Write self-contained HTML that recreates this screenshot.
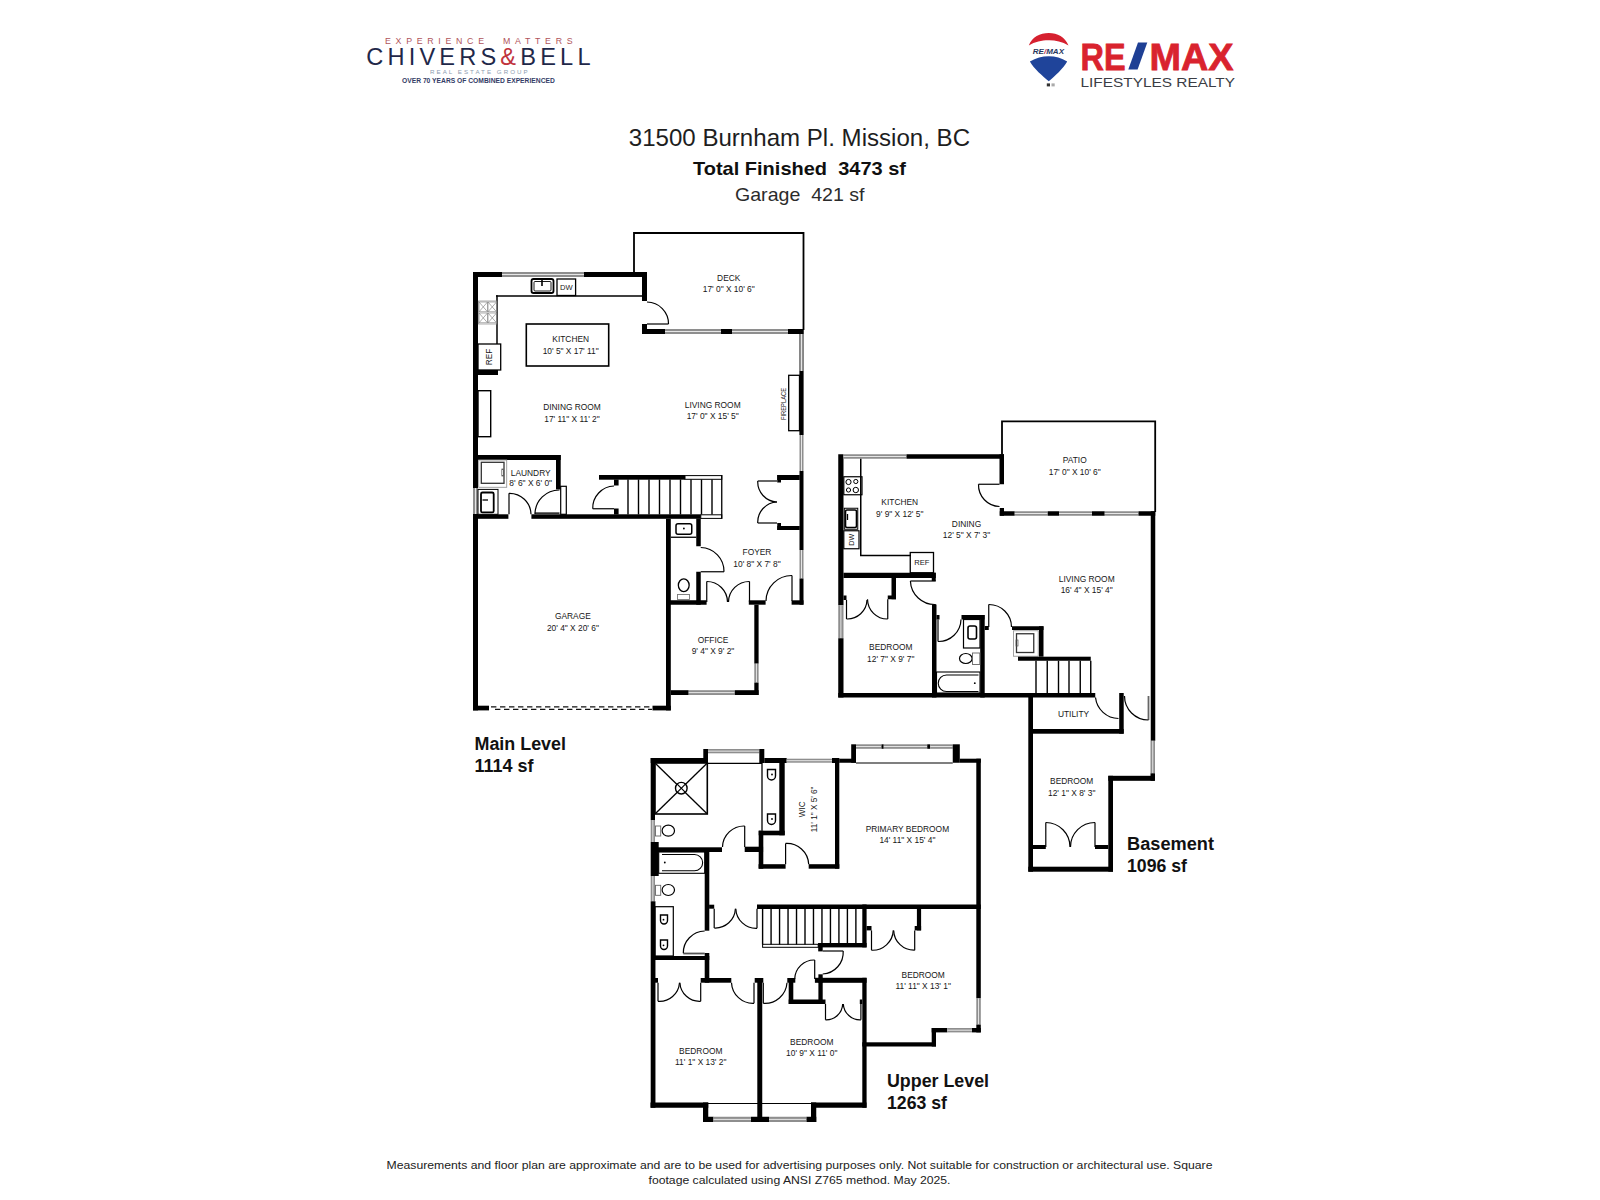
<!DOCTYPE html>
<html><head><meta charset="utf-8"><title>31500 Burnham Pl. Mission, BC - Floor Plan</title>
<style>
html,body{margin:0;padding:0;background:#fff;}
body{width:1600px;height:1200px;overflow:hidden;position:relative;font-family:"Liberation Sans",sans-serif;}
svg{position:absolute;left:0;top:0;}
.w{fill:#000;}
text{font-family:"Liberation Sans",sans-serif;white-space:pre;}
</style></head><body>
<svg width="1600" height="1200" viewBox="0 0 1600 1200">
<defs>

</defs>
<!-- Chivers & Bell logo -->
<g>
<text x="385" y="44.4" font-size="8.8" fill="#b0545a" textLength="187.6" lengthAdjust="spacing">EXPERIENCE  MATTERS</text>
<text x="366.3" y="65" font-size="23.6" fill="#1f2849" textLength="224.2" lengthAdjust="spacing">CHIVERS<tspan fill="#c0343d">&amp;</tspan>BELL</text>
<text x="430" y="73.6" font-size="6.2" fill="#8d9db0" textLength="97.6" lengthAdjust="spacing">REAL ESTATE GROUP</text>
<text x="402" y="83" font-size="6.9" font-weight="bold" fill="#333c66" textLength="152.8" lengthAdjust="spacingAndGlyphs">OVER 70 YEARS OF COMBINED EXPERIENCED</text>
</g>
<!-- RE/MAX logo -->
<g>
<path d="M1028.8 45.6C1032 37 1040 33 1048.8 33C1057.5 33 1065 37 1068.5 45.6C1062 41.5 1055 40.2 1048.8 40.3C1042.5 40.2 1035 41.5 1028.8 45.6Z" fill="#d6202f"/><path d="M1029.9 61.6C1036 58 1042 56.3 1048.8 56.3C1055.5 56.3 1061.5 58 1067.2 61.6C1063 69 1055 76 1048.8 81.3C1042.5 76 1034 69 1029.9 61.6Z" fill="#1f449a"/><text x="1032.8" y="54.2" font-size="8" font-weight="bold" font-style="italic" fill="#27375e" textLength="31.2" lengthAdjust="spacingAndGlyphs">RE<tspan fill="#c4304a">/</tspan>MAX</text><rect x="1046.8" y="83.4" width="3.2" height="3" fill="#333"/><rect x="1051.5" y="83.4" width="3.2" height="3" fill="#aaa"/>
<text x="1080.5" y="69.5" font-size="37.5" font-weight="bold" fill="#d9232e" stroke="#d9232e" stroke-width="0.8" textLength="45" lengthAdjust="spacingAndGlyphs">RE</text><path d="M1128.3 69.5H1137.6L1147.3 42.6H1138Z" fill="#1e3f94"/><text x="1149.5" y="69.5" font-size="37.5" font-weight="bold" fill="#d9232e" stroke="#d9232e" stroke-width="0.8" textLength="84" lengthAdjust="spacingAndGlyphs">MAX</text>
<text x="1080.5" y="86.7" font-size="12.6" fill="#3b3d44" textLength="154.5" lengthAdjust="spacingAndGlyphs">LIFESTYLES REALTY</text>
</g>
<!-- header text -->
<text x="628.75" y="146.3" font-size="24.2" fill="#1e1e1e" textLength="341.3" lengthAdjust="spacingAndGlyphs">31500 Burnham Pl. Mission, BC</text>
<text x="693" y="174.5" font-size="18.6" font-weight="bold" fill="#0f0f0f" textLength="213" lengthAdjust="spacingAndGlyphs">Total Finished  3473 sf</text>
<text x="735" y="201.3" font-size="19" fill="#2b2b2b" textLength="129.5" lengthAdjust="spacingAndGlyphs">Garage  421 sf</text>
<!-- level labels -->
<text x="474.5" y="749.5" font-size="18" font-weight="bold" fill="#111" textLength="91.5" lengthAdjust="spacingAndGlyphs">Main Level</text>
<text x="474.5" y="772" font-size="18" font-weight="bold" fill="#111" textLength="59" lengthAdjust="spacingAndGlyphs">1114 sf</text>
<text x="1127" y="849.5" font-size="18" font-weight="bold" fill="#111" textLength="87" lengthAdjust="spacingAndGlyphs">Basement</text>
<text x="1127" y="872" font-size="18" font-weight="bold" fill="#111" textLength="60" lengthAdjust="spacingAndGlyphs">1096 sf</text>
<text x="887" y="1086.5" font-size="18" font-weight="bold" fill="#111" textLength="102" lengthAdjust="spacingAndGlyphs">Upper Level</text>
<text x="887" y="1109" font-size="18" font-weight="bold" fill="#111" textLength="60" lengthAdjust="spacingAndGlyphs">1263 sf</text>
<!-- footer -->
<text x="386.5" y="1169" font-size="10.9" fill="#222" textLength="826" lengthAdjust="spacingAndGlyphs">Measurements and floor plan are approximate and are to be used for advertising purposes only. Not suitable for construction or architectural use. Square</text>
<text x="648.5" y="1183.5" font-size="10.9" fill="#222" textLength="302" lengthAdjust="spacingAndGlyphs">footage calculated using ANSI Z765 method. May 2025.</text>
<!-- floor plans -->
<path d="M634 272V233H803.5V330" fill="none" stroke="#000" stroke-width="1.8"/>
<rect x="473" y="272" width="29" height="5" class="w"/>
<rect x="502" y="272" width="82" height="5" fill="#8e8e8e"/>
<line x1="502" y1="274.5" x2="584" y2="274.5" stroke="#e6e6e6" stroke-width="1.0"/>
<rect x="584" y="272" width="63" height="5" class="w"/>
<rect x="642" y="272" width="5" height="29" class="w"/>
<rect x="473" y="272" width="5" height="216" class="w"/>
<rect x="473" y="488" width="5" height="26" fill="#8e8e8e"/>
<line x1="475.5" y1="488" x2="475.5" y2="514" stroke="#e6e6e6" stroke-width="1.0"/>
<rect x="473" y="514" width="5" height="196.4" class="w"/>
<rect x="642" y="324" width="5" height="10" class="w"/>
<rect x="642" y="329" width="23" height="5" class="w"/>
<rect x="665" y="329" width="56" height="5" fill="#8e8e8e"/>
<line x1="665" y1="331.5" x2="721" y2="331.5" stroke="#e6e6e6" stroke-width="1.0"/>
<rect x="721" y="329" width="11" height="5" class="w"/>
<rect x="732" y="329" width="56" height="5" fill="#8e8e8e"/>
<line x1="732" y1="331.5" x2="788" y2="331.5" stroke="#e6e6e6" stroke-width="1.0"/>
<rect x="788" y="329" width="15.5" height="5" class="w"/>
<line x1="647" y1="324" x2="668.5" y2="324" stroke="#000" stroke-width="1.2"/>
<path d="M668.5 324A21.75 21.75 0 0 0 647 302" fill="none" stroke="#000" stroke-width="1.2"/>
<rect x="799.5" y="334" width="4" height="37" class="w"/>
<rect x="799.5" y="371" width="4" height="64" fill="#8e8e8e"/>
<rect x="799.5" y="329" width="4" height="5" class="w"/>
<rect x="799.5" y="334" width="4" height="37" fill="#8e8e8e"/>
<line x1="801.5" y1="334" x2="801.5" y2="371" stroke="#e6e6e6" stroke-width="1.0"/>
<rect x="799.5" y="371" width="4" height="64" class="w"/>
<rect x="799.5" y="435" width="4" height="36" fill="#8e8e8e"/>
<line x1="801.5" y1="435" x2="801.5" y2="471" stroke="#e6e6e6" stroke-width="1.0"/>
<rect x="799.5" y="471" width="4" height="79" class="w"/>
<rect x="799.5" y="550" width="4" height="28.5" fill="#8e8e8e"/>
<line x1="801.5" y1="550" x2="801.5" y2="578.5" stroke="#e6e6e6" stroke-width="1.0"/>
<rect x="799.5" y="578.5" width="4" height="26.2" class="w"/>
<rect x="788.7" y="375.3" width="10.8" height="55.4" rx="0" fill="none" stroke="#000" stroke-width="1.3"/>
<text x="786.2" y="404" font-size="6.8" text-anchor="middle" font-weight="normal" fill="#161616" transform="rotate(-90 786.2 404)" textLength="32" lengthAdjust="spacingAndGlyphs">FIREPLACE</text>
<line x1="496" y1="296" x2="642" y2="296" stroke="#000" stroke-width="1.5"/>
<line x1="497" y1="295.3" x2="497" y2="344" stroke="#000" stroke-width="1.5"/>
<rect x="531.5" y="279" width="22" height="14" rx="2" fill="none" stroke="#000" stroke-width="1.8"/>
<rect x="534" y="281.5" width="17" height="9.5" rx="1" fill="none" stroke="#000" stroke-width="0.9"/>
<line x1="542" y1="280" x2="542" y2="286" stroke="#000" stroke-width="1.6"/>
<rect x="557" y="279" width="18.6" height="16.5" rx="0" fill="none" stroke="#000" stroke-width="1.3"/>
<text x="566.3" y="290.3" font-size="7.6" text-anchor="middle" font-weight="normal" fill="#222" >DW</text>
<g stroke="#8a8a8a" stroke-width="0.7" fill="none"><rect x="478.3" y="301" width="18.5" height="23"/><rect x="479" y="302" width="8.5" height="9.8"/><rect x="488" y="302" width="8.5" height="9.8"/><rect x="479" y="313" width="8.5" height="9.8"/><rect x="488" y="313" width="8.5" height="9.8"/><path d="M479 302l8.5 9.8M487.5 302l-8.5 9.8M488 302l8.5 9.8M496.5 302l-8.5 9.8M479 313l8.5 9.8M487.5 313l-8.5 9.8M488 313l8.5 9.8M496.5 313l-8.5 9.8"/></g>
<rect x="478" y="344" width="22.7" height="26" rx="0" fill="none" stroke="#000" stroke-width="1.3"/>
<text x="492.2" y="357" font-size="8.2" text-anchor="middle" font-weight="normal" fill="#161616" transform="rotate(-90 492.2 357)">REF</text>
<rect x="478" y="370" width="20" height="5" class="w"/>
<rect x="526.3" y="324" width="82.4" height="42" rx="0" fill="none" stroke="#000" stroke-width="1.6"/>
<rect x="478" y="390.7" width="12.7" height="46" rx="0" fill="none" stroke="#000" stroke-width="1.4"/>
<rect x="478" y="455" width="82.7" height="5" class="w"/>
<rect x="556" y="455" width="4.7" height="34.4" class="w"/>
<rect x="478.7" y="460" width="28" height="27.3" rx="0" fill="none" stroke="#999" stroke-width="0.9"/>
<rect x="481.3" y="462.3" width="22.7" height="21" rx="0" fill="none" stroke="#333" stroke-width="1.3"/>
<rect x="501.8" y="469" width="1.8" height="7" rx="0" fill="none" stroke="#555" stroke-width="0.7"/>
<rect x="478" y="489.4" width="20" height="24.9" rx="0" fill="none" stroke="#000" stroke-width="1.0"/>
<rect x="481" y="492.5" width="12.7" height="19.9" rx="1.5" fill="none" stroke="#000" stroke-width="1.8"/>
<line x1="482.5" y1="500" x2="488" y2="500" stroke="#000" stroke-width="1.3"/>
<rect x="478" y="514.3" width="30.4" height="4.5" class="w"/>
<rect x="531.4" y="514.3" width="169.35" height="4.5" class="w"/>
<line x1="509" y1="514.3" x2="509" y2="493.3" stroke="#000" stroke-width="1.2"/>
<path d="M509 493.3A21.5 21.5 0 0 1 531 514.3" fill="none" stroke="#000" stroke-width="1.2"/>
<line x1="534.8" y1="513.3" x2="559.5" y2="513.3" stroke="#333" stroke-width="2.0"/>
<path d="M535 514A24.25 24.25 0 0 1 559.5 490" fill="none" stroke="#000" stroke-width="1.2"/>
<rect x="560.7" y="486.3" width="5.6" height="28" rx="0" fill="none" stroke="#000" stroke-width="1.2"/>
<rect x="599" y="475" width="86" height="4.7" class="w"/>
<rect x="685" y="475.6" width="36.75" height="3.7" rx="0" fill="none" stroke="#000" stroke-width="1.0"/>
<rect x="700.75" y="514.8" width="21" height="3.6" rx="0" fill="none" stroke="#000" stroke-width="1.0"/>
<line x1="721.75" y1="475" x2="721.75" y2="518.8" stroke="#000" stroke-width="1.3"/>
<rect x="614" y="479.5" width="4.6" height="6" class="w"/>
<rect x="614" y="508.5" width="4.6" height="6" class="w"/>
<line x1="614" y1="508.75" x2="592.75" y2="508.75" stroke="#000" stroke-width="1.2"/>
<path d="M592.75 508.75A22 22 0 0 1 614 486" fill="none" stroke="#000" stroke-width="1.2"/>
<line x1="628" y1="479.5" x2="628" y2="514.5" stroke="#000" stroke-width="1.4"/>
<line x1="638.5" y1="479.5" x2="638.5" y2="514.5" stroke="#000" stroke-width="1.4"/>
<line x1="649" y1="479.5" x2="649" y2="514.5" stroke="#000" stroke-width="1.4"/>
<line x1="659.5" y1="479.5" x2="659.5" y2="514.5" stroke="#000" stroke-width="1.4"/>
<line x1="670" y1="479.5" x2="670" y2="514.5" stroke="#000" stroke-width="1.4"/>
<line x1="680.5" y1="479.5" x2="680.5" y2="514.5" stroke="#000" stroke-width="1.4"/>
<line x1="691" y1="479.5" x2="691" y2="514.5" stroke="#000" stroke-width="1.4"/>
<line x1="701.5" y1="479.5" x2="701.5" y2="514.5" stroke="#000" stroke-width="1.4"/>
<line x1="712" y1="479.5" x2="712" y2="514.5" stroke="#000" stroke-width="1.4"/>
<rect x="666" y="518.8" width="4.8" height="191.6" class="w"/>
<rect x="473" y="705.7" width="16" height="4.7" class="w"/>
<rect x="652.5" y="705.7" width="18.3" height="4.7" class="w"/>
<line x1="491" y1="706.8" x2="652" y2="706.8" stroke="#111" stroke-width="1.2" stroke-dasharray="5.4 3.6"/>
<line x1="495" y1="709.4" x2="652" y2="709.4" stroke="#111" stroke-width="1.2" stroke-dasharray="5.4 3.6"/>
<rect x="696.25" y="518.5" width="4.5" height="27.75" class="w"/>
<rect x="696.25" y="571.75" width="4.5" height="33" class="w"/>
<rect x="666" y="600.25" width="40.6" height="4.5" class="w"/>
<rect x="676" y="523.75" width="15.75" height="10.5" rx="2" fill="none" stroke="#000" stroke-width="1.5"/>
<circle cx="683.9" cy="528.5" r="0.9" fill="#000"/>
<line x1="670.8" y1="537.25" x2="696.25" y2="537.25" stroke="#000" stroke-width="1.3"/>
<ellipse cx="683.75" cy="585.25" rx="5.4" ry="6.4" fill="none" stroke="#000" stroke-width="1.3"/>
<rect x="677.5" y="594.5" width="12" height="5" rx="0" fill="none" stroke="#777" stroke-width="0.9"/>
<line x1="700.75" y1="571.75" x2="724" y2="571.75" stroke="#000" stroke-width="1.2"/>
<path d="M724 571.75A23.75 23.75 0 0 0 700.75 547.5" fill="none" stroke="#000" stroke-width="1.2"/>
<rect x="777.25" y="475" width="22.5" height="5" class="w"/>
<rect x="777.25" y="475" width="3.75" height="7.5" class="w"/>
<rect x="777.25" y="526" width="22.5" height="4" class="w"/>
<rect x="777.25" y="523" width="3.75" height="7" class="w"/>
<line x1="777" y1="481" x2="757.75" y2="481" stroke="#000" stroke-width="1.2"/>
<path d="M757.75 481A20.12 20.12 0 0 0 777 502" fill="none" stroke="#000" stroke-width="1.2"/>
<line x1="777" y1="523" x2="757.75" y2="523" stroke="#000" stroke-width="1.2"/>
<path d="M757.75 523A20.12 20.12 0 0 1 777 502" fill="none" stroke="#000" stroke-width="1.2"/>
<rect x="748.8" y="600.3" width="16.8" height="4.4" class="w"/>
<rect x="791.6" y="600.3" width="11.9" height="4.4" class="w"/>
<line x1="706.75" y1="602" x2="706.75" y2="581.5" stroke="#000" stroke-width="1.2"/>
<path d="M706.75 581.5A20.62 20.62 0 0 1 727.5 602" fill="none" stroke="#000" stroke-width="1.2"/>
<line x1="749.5" y1="602" x2="749.5" y2="581.5" stroke="#000" stroke-width="1.2"/>
<path d="M749.5 581.5A20.75 20.75 0 0 0 728.5 602" fill="none" stroke="#000" stroke-width="1.2"/>
<line x1="792" y1="601" x2="792" y2="575.5" stroke="#000" stroke-width="1.2"/>
<path d="M792 575.5A25.75 25.75 0 0 0 766 601" fill="none" stroke="#000" stroke-width="1.2"/>
<rect x="754.3" y="604.7" width="4.3" height="59" class="w"/>
<rect x="754.3" y="663.7" width="4.3" height="18.9" fill="#8e8e8e"/>
<line x1="756.45" y1="663.7" x2="756.45" y2="682.6" stroke="#e6e6e6" stroke-width="1.0"/>
<rect x="754.3" y="682.6" width="4.3" height="12.4" class="w"/>
<rect x="670.8" y="690.2" width="17.9" height="4.8" class="w"/>
<rect x="688.7" y="690.2" width="46.1" height="4.8" fill="#8e8e8e"/>
<line x1="688.7" y1="692.6" x2="734.8" y2="692.6" stroke="#e6e6e6" stroke-width="1.0"/>
<rect x="734.8" y="690.2" width="23.8" height="4.8" class="w"/>
<text x="728.75" y="281.1" font-size="8.4" text-anchor="middle" font-weight="normal" fill="#161616" >DECK</text>
<text x="728.75" y="292.1" font-size="8.4" text-anchor="middle" font-weight="normal" fill="#161616" >17' 0&quot; X 10' 6&quot;</text>
<text x="570.7" y="342.4" font-size="8.4" text-anchor="middle" font-weight="normal" fill="#161616" >KITCHEN</text>
<text x="570.7" y="353.8" font-size="8.4" text-anchor="middle" font-weight="normal" fill="#161616" >10' 5&quot; X 17' 11&quot;</text>
<text x="572" y="410.4" font-size="8.4" text-anchor="middle" font-weight="normal" fill="#161616" >DINING ROOM</text>
<text x="572" y="421.8" font-size="8.4" text-anchor="middle" font-weight="normal" fill="#161616" >17' 11&quot; X 11' 2&quot;</text>
<text x="712.7" y="408.4" font-size="8.4" text-anchor="middle" font-weight="normal" fill="#161616" >LIVING ROOM</text>
<text x="712.7" y="419.1" font-size="8.4" text-anchor="middle" font-weight="normal" fill="#161616" >17' 0&quot; X 15' 5&quot;</text>
<text x="530.7" y="475.8" font-size="8.4" text-anchor="middle" font-weight="normal" fill="#161616" >LAUNDRY</text>
<text x="530.7" y="485.8" font-size="8.4" text-anchor="middle" font-weight="normal" fill="#161616" >8' 6&quot; X 6' 0&quot;</text>
<text x="757" y="554.6" font-size="8.4" text-anchor="middle" font-weight="normal" fill="#161616" >FOYER</text>
<text x="757" y="566.6" font-size="8.4" text-anchor="middle" font-weight="normal" fill="#161616" >10' 8&quot; X 7' 8&quot;</text>
<text x="572.9" y="619.3" font-size="8.4" text-anchor="middle" font-weight="normal" fill="#161616" >GARAGE</text>
<text x="572.9" y="630.7" font-size="8.4" text-anchor="middle" font-weight="normal" fill="#161616" >20' 4&quot; X 20' 6&quot;</text>
<text x="713" y="643.1" font-size="8.4" text-anchor="middle" font-weight="normal" fill="#161616" >OFFICE</text>
<text x="713" y="654.3" font-size="8.4" text-anchor="middle" font-weight="normal" fill="#161616" >9' 4&quot; X 9' 2&quot;</text>
<rect x="838.25" y="454.25" width="5.25" height="151" class="w"/>
<rect x="838.25" y="605.25" width="5.25" height="33" fill="#8e8e8e"/>
<line x1="840.88" y1="605.25" x2="840.88" y2="638.25" stroke="#e6e6e6" stroke-width="1.0"/>
<rect x="838.25" y="638.25" width="5.25" height="59.25" class="w"/>
<rect x="843.5" y="454.25" width="63" height="4.5" fill="#8e8e8e"/>
<line x1="843.5" y1="456.5" x2="906.5" y2="456.5" stroke="#e6e6e6" stroke-width="1.0"/>
<rect x="906.5" y="454.25" width="97.5" height="4.5" class="w"/>
<rect x="999.5" y="454.25" width="4.5" height="30" class="w"/>
<path d="M1002 454.5V421.3H1155.2V512" fill="none" stroke="#000" stroke-width="1.8"/>
<rect x="999.75" y="508" width="4.25" height="7.75" class="w"/>
<rect x="999.75" y="511.25" width="15" height="4.5" class="w"/>
<rect x="1014.75" y="511.25" width="33" height="4.5" fill="#8e8e8e"/>
<line x1="1014.75" y1="513.5" x2="1047.75" y2="513.5" stroke="#e6e6e6" stroke-width="1.0"/>
<rect x="1047.75" y="511.25" width="11.25" height="4.5" class="w"/>
<rect x="1059" y="511.25" width="33" height="4.5" fill="#8e8e8e"/>
<line x1="1059" y1="513.5" x2="1092" y2="513.5" stroke="#e6e6e6" stroke-width="1.0"/>
<rect x="1092" y="511.25" width="12.75" height="4.5" class="w"/>
<rect x="1104.75" y="511.25" width="33.75" height="4.5" fill="#8e8e8e"/>
<line x1="1104.75" y1="513.5" x2="1138.5" y2="513.5" stroke="#e6e6e6" stroke-width="1.0"/>
<rect x="1138.5" y="511.25" width="16.75" height="4.5" class="w"/>
<line x1="999.5" y1="484.25" x2="978.5" y2="484.25" stroke="#000" stroke-width="1.2"/>
<path d="M978.5 484.25A21.62 21.62 0 0 0 999.5 506.5" fill="none" stroke="#000" stroke-width="1.2"/>
<rect x="1150.75" y="511.25" width="4.5" height="229.55" class="w"/>
<rect x="1150.5" y="740.8" width="4.5" height="32.5" fill="#8e8e8e"/>
<line x1="1152.75" y1="740.8" x2="1152.75" y2="773.3" stroke="#e6e6e6" stroke-width="1.0"/>
<rect x="1150.5" y="773.3" width="4.5" height="7.5" class="w"/>
<line x1="860.75" y1="458.75" x2="860.75" y2="555.5" stroke="#000" stroke-width="1.5"/>
<line x1="860" y1="555.5" x2="911" y2="555.5" stroke="#000" stroke-width="1.5"/>
<rect x="843.8" y="476.75" width="18.2" height="18" rx="0" fill="none" stroke="#000" stroke-width="1.2"/>
<circle cx="848.5" cy="482" r="2.6" fill="none" stroke="#000" stroke-width="1.0"/>
<circle cx="855.8" cy="481.5" r="2.1" fill="none" stroke="#000" stroke-width="1.0"/>
<circle cx="848.5" cy="490" r="2.1" fill="none" stroke="#000" stroke-width="1.0"/>
<circle cx="855.8" cy="490" r="2.7" fill="none" stroke="#000" stroke-width="1.0"/>
<rect x="844.3" y="508.25" width="13.45" height="21" rx="0" fill="none" stroke="#000" stroke-width="1.0"/>
<rect x="845.5" y="510" width="11" height="17.5" rx="1.5" fill="none" stroke="#000" stroke-width="1.6"/>
<line x1="847.5" y1="514" x2="847.5" y2="520" stroke="#000" stroke-width="1.3"/>
<rect x="843.8" y="530.75" width="15.2" height="18" rx="0" fill="none" stroke="#000" stroke-width="1.2"/>
<text x="854" y="539.75" font-size="7.2" text-anchor="middle" font-weight="normal" fill="#161616" transform="rotate(-90 854 539.75)">DW</text>
<rect x="910.25" y="552.5" width="23.25" height="20.25" rx="0" fill="none" stroke="#000" stroke-width="1.3"/>
<text x="921.9" y="565.3" font-size="7.6" text-anchor="middle" font-weight="normal" fill="#161616" >REF</text>
<rect x="843.5" y="572.75" width="92.25" height="5.25" class="w"/>
<rect x="931.75" y="572.75" width="4" height="8.25" class="w"/>
<rect x="891.5" y="577.5" width="4.5" height="21.75" class="w"/>
<rect x="887.75" y="595.5" width="8.25" height="3.75" class="w"/>
<rect x="843.5" y="595.5" width="3" height="4.5" class="w"/>
<line x1="846.5" y1="600" x2="846.5" y2="619" stroke="#000" stroke-width="1.2"/>
<path d="M846.5 619A19.75 19.75 0 0 0 867 600" fill="none" stroke="#000" stroke-width="1.2"/>
<line x1="887.75" y1="599.25" x2="887.75" y2="619" stroke="#000" stroke-width="1.2"/>
<path d="M887.75 619A20 20 0 0 1 867.5 599.25" fill="none" stroke="#000" stroke-width="1.2"/>
<rect x="838.25" y="693" width="257" height="4.5" class="w"/>
<rect x="932" y="604.5" width="4.5" height="93" class="w"/>
<line x1="935.75" y1="581" x2="910.4" y2="581" stroke="#000" stroke-width="1.2"/>
<path d="M910.4 581A24.43 24.43 0 0 0 935.75 604.5" fill="none" stroke="#000" stroke-width="1.2"/>
<rect x="936.5" y="615" width="3" height="4.5" class="w"/>
<line x1="938" y1="619.5" x2="938" y2="641.5" stroke="#000" stroke-width="1.2"/>
<path d="M938 641.5A22.5 22.5 0 0 0 961 619.5" fill="none" stroke="#000" stroke-width="1.2"/>
<rect x="961.5" y="615" width="23" height="4.5" class="w"/>
<rect x="980.2" y="615" width="4.5" height="82.5" class="w"/>
<rect x="963.5" y="619.5" width="16.5" height="28.5" rx="0" fill="none" stroke="#000" stroke-width="1.2"/>
<rect x="968" y="626" width="8.5" height="13" rx="2" fill="none" stroke="#000" stroke-width="1.6"/>
<ellipse cx="965.8" cy="658.5" rx="6.3" ry="5" fill="none" stroke="#000" stroke-width="1.2"/>
<rect x="972.5" y="653" width="7.3" height="11.5" rx="0" fill="none" stroke="#666" stroke-width="0.9"/>
<rect x="936.5" y="672" width="43.5" height="21" rx="0" fill="none" stroke="#000" stroke-width="1.1"/>
<path d="M978.5 675H946.5A7.5 7.5 0 0 0 946.5 691.5H978.5" fill="none" stroke="#000" stroke-width="1.1"/>
<circle cx="974.8" cy="683.2" r="0.9" fill="#000"/>
<rect x="984.7" y="626" width="4.05" height="4" class="w"/>
<line x1="988.75" y1="627" x2="988.75" y2="604.5" stroke="#000" stroke-width="1.2"/>
<path d="M988.75 604.5A22.62 22.62 0 0 1 1011.5 627" fill="none" stroke="#000" stroke-width="1.2"/>
<rect x="1012" y="626.25" width="31.5" height="3.75" class="w"/>
<rect x="1039" y="626.25" width="4.5" height="30.45" class="w"/>
<rect x="1013.5" y="630.75" width="24.75" height="25.5" rx="0" fill="none" stroke="#999" stroke-width="0.9"/>
<rect x="1016.5" y="633.75" width="17.25" height="18.75" rx="0" fill="none" stroke="#333" stroke-width="1.3"/>
<rect x="1016" y="640" width="2" height="6" rx="0" fill="none" stroke="#555" stroke-width="0.7"/>
<rect x="1018" y="656.7" width="72.75" height="4.05" class="w"/>
<line x1="1036" y1="660.75" x2="1036" y2="693" stroke="#000" stroke-width="1.4"/>
<line x1="1047.25" y1="660.75" x2="1047.25" y2="693" stroke="#000" stroke-width="1.4"/>
<line x1="1058.5" y1="660.75" x2="1058.5" y2="693" stroke="#000" stroke-width="1.4"/>
<line x1="1069" y1="660.75" x2="1069" y2="693" stroke="#000" stroke-width="1.4"/>
<line x1="1080.25" y1="660.75" x2="1080.25" y2="693" stroke="#000" stroke-width="1.4"/>
<line x1="1090.75" y1="660.75" x2="1090.75" y2="693" stroke="#000" stroke-width="1.4"/>
<rect x="1119.2" y="693" width="4.5" height="40.7" class="w"/>
<rect x="1033" y="729" width="90.7" height="4.7" class="w"/>
<rect x="1028.3" y="693" width="4.7" height="178.7" class="w"/>
<path d="M1095.5 697.5A23.6 23.6 0 0 0 1118.5 718.5" fill="none" stroke="#000" stroke-width="1.2"/>
<line x1="1148.5" y1="696" x2="1148.5" y2="720" stroke="#666" stroke-width="1.8"/>
<path d="M1124.5 696A24 24 0 0 0 1148.5 720" fill="none" stroke="#000" stroke-width="1.2"/>
<rect x="1028.3" y="866.7" width="84.7" height="5" class="w"/>
<rect x="1108.3" y="775.8" width="4.7" height="95.9" class="w"/>
<rect x="1108.3" y="775.8" width="46.4" height="5" class="w"/>
<rect x="1033" y="845" width="12.8" height="4" class="w"/>
<rect x="1095" y="845" width="13.3" height="4" class="w"/>
<line x1="1045.8" y1="847" x2="1045.8" y2="822.5" stroke="#000" stroke-width="1.2"/>
<path d="M1045.8 822.5A24.35 24.35 0 0 1 1070 847" fill="none" stroke="#000" stroke-width="1.2"/>
<line x1="1095" y1="847" x2="1095" y2="822.5" stroke="#000" stroke-width="1.2"/>
<path d="M1095 822.5A24.5 24.5 0 0 0 1070.5 847" fill="none" stroke="#000" stroke-width="1.2"/>
<text x="1074.75" y="463.35" font-size="8.4" text-anchor="middle" font-weight="normal" fill="#161616" >PATIO</text>
<text x="1074.75" y="474.6" font-size="8.4" text-anchor="middle" font-weight="normal" fill="#161616" >17' 0&quot; X 10' 6&quot;</text>
<text x="899.75" y="504.6" font-size="8.4" text-anchor="middle" font-weight="normal" fill="#161616" >KITCHEN</text>
<text x="899.75" y="516.6" font-size="8.4" text-anchor="middle" font-weight="normal" fill="#161616" >9' 9&quot; X 12' 5&quot;</text>
<text x="966.5" y="527.1" font-size="8.4" text-anchor="middle" font-weight="normal" fill="#161616" >DINING</text>
<text x="966.5" y="538.35" font-size="8.4" text-anchor="middle" font-weight="normal" fill="#161616" >12' 5&quot; X 7' 3&quot;</text>
<text x="1086.7" y="582.1" font-size="8.4" text-anchor="middle" font-weight="normal" fill="#161616" >LIVING ROOM</text>
<text x="1086.7" y="592.6" font-size="8.4" text-anchor="middle" font-weight="normal" fill="#161616" >16' 4&quot; X 15' 4&quot;</text>
<text x="890.75" y="650.35" font-size="8.4" text-anchor="middle" font-weight="normal" fill="#161616" >BEDROOM</text>
<text x="890.75" y="661.6" font-size="8.4" text-anchor="middle" font-weight="normal" fill="#161616" >12' 7&quot; X 9' 7&quot;</text>
<text x="1073.5" y="717.1" font-size="8.4" text-anchor="middle" font-weight="normal" fill="#161616" >UTILITY</text>
<text x="1071.7" y="784.4" font-size="8.4" text-anchor="middle" font-weight="normal" fill="#161616" >BEDROOM</text>
<text x="1071.7" y="796.1" font-size="8.4" text-anchor="middle" font-weight="normal" fill="#161616" >12' 1&quot; X 8' 3&quot;</text>
<rect x="650.7" y="758" width="4.3" height="62" class="w"/>
<rect x="650.7" y="820" width="4.3" height="22" fill="#8e8e8e"/>
<line x1="652.85" y1="820" x2="652.85" y2="842" stroke="#e6e6e6" stroke-width="1.0"/>
<rect x="650.7" y="842" width="8" height="34" class="w"/>
<rect x="650.7" y="876" width="4.3" height="25.3" fill="#8e8e8e"/>
<line x1="652.85" y1="876" x2="652.85" y2="901.3" stroke="#e6e6e6" stroke-width="1.0"/>
<rect x="650.7" y="901.3" width="4.75" height="206.45" class="w"/>
<rect x="650.7" y="758" width="57.3" height="5" class="w"/>
<rect x="703.3" y="749" width="4.7" height="14" class="w"/>
<rect x="708" y="749" width="51.3" height="4.3" fill="#8e8e8e"/>
<line x1="708" y1="751.15" x2="759.3" y2="751.15" stroke="#e6e6e6" stroke-width="1.0"/>
<rect x="759.3" y="749" width="5" height="14" class="w"/>
<line x1="708" y1="763.3" x2="762" y2="763.3" stroke="#000" stroke-width="1.2"/>
<rect x="764.3" y="758" width="22.4" height="5" class="w"/>
<rect x="786.7" y="758.7" width="45.3" height="4" fill="#8e8e8e"/>
<line x1="786.7" y1="760.7" x2="832" y2="760.7" stroke="#e6e6e6" stroke-width="1.0"/>
<rect x="832" y="758" width="7.3" height="5" class="w"/>
<rect x="655" y="763" width="52.3" height="51" rx="0" fill="none" stroke="#000" stroke-width="1.6"/>
<line x1="655.5" y1="763.5" x2="706.8" y2="813.5" stroke="#000" stroke-width="1.3"/>
<line x1="706.8" y1="763.5" x2="655.5" y2="813.5" stroke="#000" stroke-width="1.3"/>
<circle cx="681.3" cy="788.2" r="5.8" fill="#fff" stroke="#000" stroke-width="1.4"/>
<line x1="677.2" y1="784.1" x2="685.4" y2="792.3" stroke="#000" stroke-width="1.2"/>
<line x1="685.4" y1="784.1" x2="677.2" y2="792.3" stroke="#000" stroke-width="1.2"/>
<ellipse cx="668.3" cy="830.7" rx="6.2" ry="5.5" fill="none" stroke="#000" stroke-width="1.2"/>
<rect x="655.5" y="826" width="5.2" height="10" rx="0" fill="none" stroke="#666" stroke-width="0.9"/>
<line x1="762" y1="763" x2="762" y2="830.7" stroke="#000" stroke-width="1.3"/>
<rect x="779.3" y="763" width="5.4" height="72.3" class="w"/>
<path d="M767.5 769.5H775.5V776A4 4 0 0 1 767.5 776Z" fill="none" stroke="#000" stroke-width="1.4"/>
<circle cx="772" cy="774.5" r="0.9" fill="#000"/>
<path d="M767.5 814H775.5V820.5A4 4 0 0 1 767.5 820.5Z" fill="none" stroke="#000" stroke-width="1.4"/>
<circle cx="772" cy="819" r="0.9" fill="#000"/>
<rect x="758.7" y="830.7" width="26" height="4.6" class="w"/>
<rect x="758.7" y="830.7" width="4.6" height="38" class="w"/>
<rect x="655" y="847.3" width="67" height="4.7" class="w"/>
<rect x="744.7" y="846.7" width="18.4" height="5.3" class="w"/>
<line x1="744.7" y1="847" x2="744.7" y2="826" stroke="#000" stroke-width="1.2"/>
<path d="M744.7 826A21.6 21.6 0 0 0 722.5 847" fill="none" stroke="#000" stroke-width="1.2"/>
<rect x="835" y="758.7" width="4.3" height="110" class="w"/>
<rect x="758.6" y="864.2" width="27" height="4.5" class="w"/>
<rect x="808.7" y="864.2" width="30.6" height="4.5" class="w"/>
<line x1="785.6" y1="864.2" x2="785.6" y2="843.4" stroke="#000" stroke-width="1.2"/>
<path d="M785.6 843.4A21.95 21.95 0 0 1 808.7 864.2" fill="none" stroke="#000" stroke-width="1.2"/>
<text x="805.5" y="809.3" font-size="8.2" text-anchor="middle" font-weight="normal" fill="#161616" transform="rotate(-90 805.5 809.3)">WIC</text>
<text x="817" y="809.3" font-size="8.2" text-anchor="middle" font-weight="normal" fill="#161616" transform="rotate(-90 817 809.3)">11' 1&quot; X 5' 6&quot;</text>
<rect x="839.3" y="758.7" width="16.7" height="4.05" class="w"/>
<rect x="851.2" y="744.3" width="4.8" height="18.45" class="w"/>
<rect x="856" y="744.3" width="25.5" height="4.5" fill="#8e8e8e"/>
<line x1="856" y1="746.55" x2="881.5" y2="746.55" stroke="#e6e6e6" stroke-width="1.0"/>
<rect x="881.5" y="744.3" width="2.25" height="4.5" class="w"/>
<rect x="883.75" y="744.3" width="43.5" height="4.5" fill="#8e8e8e"/>
<line x1="883.75" y1="746.55" x2="927.25" y2="746.55" stroke="#e6e6e6" stroke-width="1.0"/>
<rect x="927.25" y="744.3" width="3" height="4.5" class="w"/>
<rect x="930.25" y="744.3" width="22.5" height="4.5" fill="#8e8e8e"/>
<line x1="930.25" y1="746.55" x2="952.75" y2="746.55" stroke="#e6e6e6" stroke-width="1.0"/>
<rect x="952.75" y="744.3" width="7.05" height="18.45" class="w"/>
<line x1="856" y1="763" x2="952.75" y2="763" stroke="#000" stroke-width="1.2"/>
<rect x="959.8" y="758.7" width="21" height="4.05" class="w"/>
<rect x="976.3" y="758.7" width="4.5" height="239.7" class="w"/>
<rect x="976.3" y="998.4" width="4.5" height="26.2" fill="#8e8e8e"/>
<line x1="978.55" y1="998.4" x2="978.55" y2="1024.6" stroke="#e6e6e6" stroke-width="1.0"/>
<rect x="976.3" y="1024.6" width="4.5" height="7.8" class="w"/>
<rect x="757" y="904.5" width="223.8" height="4.5" class="w"/>
<rect x="704.7" y="851.2" width="4.6" height="79.5" class="w"/>
<rect x="709.1" y="904.7" width="5.1" height="4" class="w"/>
<rect x="658.7" y="852" width="46" height="21.3" rx="0" fill="none" stroke="#000" stroke-width="1.1"/>
<path d="M662 854.5H694.5A8 8 0 0 1 694.5 870.8H662" fill="none" stroke="#000" stroke-width="1.1"/>
<circle cx="664.8" cy="862.5" r="0.9" fill="#000"/>
<ellipse cx="668.3" cy="890" rx="6.2" ry="5.5" fill="none" stroke="#000" stroke-width="1.2"/>
<rect x="655.5" y="885.3" width="5.2" height="10" rx="0" fill="none" stroke="#666" stroke-width="0.9"/>
<rect x="655" y="906.7" width="18.3" height="49.3" rx="0" fill="none" stroke="#000" stroke-width="1.2"/>
<path d="M660.5 915H667.5V920.5A3.5 3.5 0 0 1 660.5 920.5Z" fill="none" stroke="#000" stroke-width="1.4"/>
<circle cx="663.5" cy="919.7" r="0.9" fill="#000"/>
<path d="M660.5 940H667.5V946A3.5 3.5 0 0 1 660.5 946Z" fill="none" stroke="#000" stroke-width="1.4"/>
<circle cx="663.5" cy="945.3" r="0.9" fill="#000"/>
<line x1="683.3" y1="953.5" x2="704.7" y2="953.5" stroke="#555" stroke-width="1.8"/>
<path d="M683.3 953.3A21.85 21.85 0 0 1 704.7 931" fill="none" stroke="#000" stroke-width="1.2"/>
<rect x="655" y="956" width="54.3" height="4" class="w"/>
<rect x="704.7" y="953" width="4.6" height="29.7" class="w"/>
<line x1="714.2" y1="908.7" x2="714.2" y2="928" stroke="#000" stroke-width="1.2"/>
<path d="M714.2 928A20.25 20.25 0 0 0 735.4 908.7" fill="none" stroke="#000" stroke-width="1.2"/>
<line x1="757" y1="908.7" x2="757" y2="928.3" stroke="#000" stroke-width="1.2"/>
<path d="M757 928.3A20.4 20.4 0 0 1 735.8 908.7" fill="none" stroke="#000" stroke-width="1.2"/>
<line x1="762.6" y1="908.6" x2="762.6" y2="944.5" stroke="#000" stroke-width="1.4"/>
<line x1="771.08" y1="908.6" x2="771.08" y2="944.5" stroke="#000" stroke-width="1.4"/>
<line x1="779.56" y1="908.6" x2="779.56" y2="944.5" stroke="#000" stroke-width="1.4"/>
<line x1="788.04" y1="908.6" x2="788.04" y2="944.5" stroke="#000" stroke-width="1.4"/>
<line x1="796.52" y1="908.6" x2="796.52" y2="944.5" stroke="#000" stroke-width="1.4"/>
<line x1="805" y1="908.6" x2="805" y2="944.5" stroke="#000" stroke-width="1.4"/>
<line x1="813.48" y1="908.6" x2="813.48" y2="944.5" stroke="#000" stroke-width="1.4"/>
<line x1="821.96" y1="908.6" x2="821.96" y2="944.5" stroke="#000" stroke-width="1.4"/>
<line x1="830.44" y1="908.6" x2="830.44" y2="944.5" stroke="#000" stroke-width="1.4"/>
<line x1="838.92" y1="908.6" x2="838.92" y2="944.5" stroke="#000" stroke-width="1.4"/>
<line x1="847.4" y1="908.6" x2="847.4" y2="944.5" stroke="#000" stroke-width="1.4"/>
<line x1="855.88" y1="908.6" x2="855.88" y2="944.5" stroke="#000" stroke-width="1.4"/>
<rect x="862.3" y="904.5" width="4.3" height="42.9" class="w"/>
<rect x="762.6" y="944.3" width="55.6" height="3" rx="0" fill="none" stroke="#000" stroke-width="1.0"/>
<rect x="818.2" y="943" width="48.4" height="4.4" class="w"/>
<rect x="818.2" y="943" width="4.5" height="8.4" class="w"/>
<line x1="822.7" y1="951" x2="843.2" y2="951" stroke="#000" stroke-width="1.2"/>
<path d="M843.2 951A21.75 21.75 0 0 1 822.7 974" fill="none" stroke="#000" stroke-width="1.2"/>
<rect x="818.4" y="974.3" width="4.3" height="8.5" class="w"/>
<rect x="814.9" y="977.8" width="51.7" height="5" class="w"/>
<rect x="862.3" y="977.8" width="4.3" height="129.95" class="w"/>
<rect x="916.9" y="909" width="4.2" height="21.4" class="w"/>
<rect x="914.7" y="926" width="6.4" height="4.4" class="w"/>
<rect x="866.6" y="926" width="4.9" height="4.4" class="w"/>
<line x1="871.5" y1="930.4" x2="871.5" y2="950.2" stroke="#000" stroke-width="1.2"/>
<path d="M871.5 950.2A20.8 20.8 0 0 0 893.3 930.4" fill="none" stroke="#000" stroke-width="1.2"/>
<line x1="914.7" y1="930.4" x2="914.7" y2="950.2" stroke="#000" stroke-width="1.2"/>
<path d="M914.7 950.2A20.4 20.4 0 0 1 893.7 930.4" fill="none" stroke="#000" stroke-width="1.2"/>
<rect x="931.7" y="1028" width="15.6" height="4.4" class="w"/>
<rect x="947.3" y="1028" width="24.7" height="4.4" fill="#8e8e8e"/>
<line x1="947.3" y1="1030.2" x2="972" y2="1030.2" stroke="#e6e6e6" stroke-width="1.0"/>
<rect x="972" y="1028" width="8.8" height="4.4" class="w"/>
<rect x="931.7" y="1028" width="4.3" height="18.5" class="w"/>
<rect x="862.3" y="1042.3" width="73.7" height="4.2" class="w"/>
<rect x="700.7" y="978" width="30.6" height="4.7" class="w"/>
<rect x="754.7" y="978" width="8.6" height="4.7" class="w"/>
<rect x="787.3" y="978" width="8" height="4.7" class="w"/>
<rect x="655" y="978" width="3" height="4.7" class="w"/>
<line x1="658" y1="982.7" x2="658" y2="1001.3" stroke="#000" stroke-width="1.2"/>
<path d="M658 1001.3A20.05 20.05 0 0 0 679.5 982.7" fill="none" stroke="#000" stroke-width="1.2"/>
<line x1="700.7" y1="982.7" x2="700.7" y2="1001.3" stroke="#000" stroke-width="1.2"/>
<path d="M700.7 1001.3A19.7 19.7 0 0 1 679.9 982.7" fill="none" stroke="#000" stroke-width="1.2"/>
<line x1="754" y1="982.7" x2="754" y2="1003.3" stroke="#000" stroke-width="1.2"/>
<path d="M754 1003.3A21.55 21.55 0 0 1 731.5 982.7" fill="none" stroke="#000" stroke-width="1.2"/>
<line x1="763.3" y1="982.7" x2="763.3" y2="1003.3" stroke="#000" stroke-width="1.2"/>
<path d="M763.3 1003.3A22.15 22.15 0 0 0 787 982.7" fill="none" stroke="#000" stroke-width="1.2"/>
<rect x="757.3" y="978" width="4.95" height="144" class="w"/>
<line x1="814.7" y1="979" x2="814.7" y2="960" stroke="#000" stroke-width="1.2"/>
<path d="M814.7 960A19.5 19.5 0 0 0 794.7 979" fill="none" stroke="#000" stroke-width="1.2"/>
<rect x="788.7" y="978" width="4.6" height="26" class="w"/>
<rect x="788.7" y="999.5" width="36.8" height="4.5" class="w"/>
<rect x="818.4" y="977.8" width="4.3" height="26.2" class="w"/>
<rect x="859.8" y="999.5" width="2.5" height="4.5" class="w"/>
<line x1="825.5" y1="1004" x2="825.5" y2="1019.8" stroke="#000" stroke-width="1.2"/>
<path d="M825.5 1019.8A16.5 16.5 0 0 0 842.7 1004" fill="none" stroke="#000" stroke-width="1.2"/>
<line x1="860.9" y1="1004" x2="860.9" y2="1019.8" stroke="#000" stroke-width="1.2"/>
<path d="M860.9 1019.8A16.7 16.7 0 0 1 843.3 1004" fill="none" stroke="#000" stroke-width="1.2"/>
<rect x="650.5" y="1102.5" width="57.75" height="5.25" class="w"/>
<rect x="703" y="1102.5" width="5.25" height="19.5" class="w"/>
<rect x="703" y="1116.75" width="10.5" height="5.25" class="w"/>
<rect x="713.5" y="1116.75" width="37.5" height="5.25" fill="#8e8e8e"/>
<line x1="713.5" y1="1119.38" x2="751" y2="1119.38" stroke="#e6e6e6" stroke-width="1.0"/>
<rect x="751" y="1116.75" width="18" height="5.25" class="w"/>
<rect x="769" y="1116.75" width="37.5" height="5.25" fill="#8e8e8e"/>
<line x1="769" y1="1119.38" x2="806.5" y2="1119.38" stroke="#e6e6e6" stroke-width="1.0"/>
<rect x="806.5" y="1116.75" width="9.75" height="5.25" class="w"/>
<rect x="811" y="1102.5" width="5.25" height="19.5" class="w"/>
<line x1="708" y1="1103.5" x2="811" y2="1103.5" stroke="#000" stroke-width="1.2"/>
<rect x="811" y="1102.5" width="55.5" height="5.25" class="w"/>
<text x="907.4" y="831.85" font-size="8.4" text-anchor="middle" font-weight="normal" fill="#161616" >PRIMARY BEDROOM</text>
<text x="907.4" y="843.1" font-size="8.4" text-anchor="middle" font-weight="normal" fill="#161616" >14' 11&quot; X 15' 4&quot;</text>
<text x="923.2" y="978.1" font-size="8.4" text-anchor="middle" font-weight="normal" fill="#161616" >BEDROOM</text>
<text x="923.2" y="989.4" font-size="8.4" text-anchor="middle" font-weight="normal" fill="#161616" >11' 11&quot; X 13' 1&quot;</text>
<text x="700.75" y="1053.55" font-size="8.4" text-anchor="middle" font-weight="normal" fill="#161616" >BEDROOM</text>
<text x="700.75" y="1064.8" font-size="8.4" text-anchor="middle" font-weight="normal" fill="#161616" >11' 1&quot; X 13' 2&quot;</text>
<text x="811.75" y="1044.85" font-size="8.4" text-anchor="middle" font-weight="normal" fill="#161616" >BEDROOM</text>
<text x="811.75" y="1056.1" font-size="8.4" text-anchor="middle" font-weight="normal" fill="#161616" >10' 9&quot; X 11' 0&quot;</text>
</svg>
</body></html>
